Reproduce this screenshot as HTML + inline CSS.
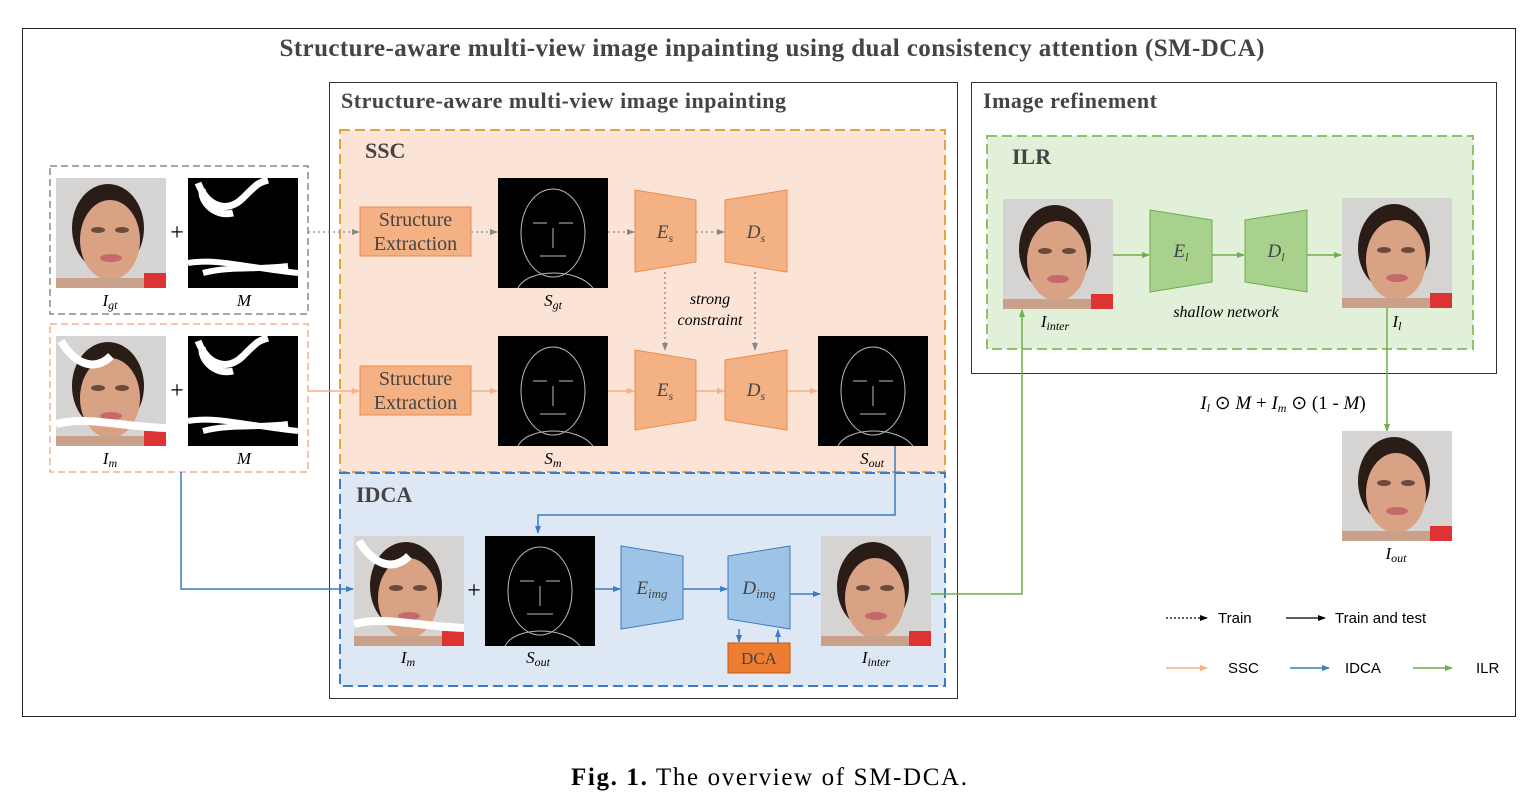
<!DOCTYPE html>
<html><head><meta charset="utf-8"><style>
body{margin:0;background:#fff;}
svg{display:block;font-family:"Liberation Serif",serif;}
</style></head><body>
<svg width="1538" height="808" viewBox="0 0 1538 808" xmlns="http://www.w3.org/2000/svg">
<defs>
<marker id="ag" markerWidth="8" markerHeight="8" refX="7" refY="4" orient="auto" markerUnits="userSpaceOnUse"><path d="M0,1 L8,4 L0,7z" fill="#888"/></marker>
<marker id="ao" markerWidth="8" markerHeight="8" refX="7" refY="4" orient="auto" markerUnits="userSpaceOnUse"><path d="M0,1 L8,4 L0,7z" fill="#f4b183"/></marker>
<marker id="ab" markerWidth="8" markerHeight="8" refX="7" refY="4" orient="auto" markerUnits="userSpaceOnUse"><path d="M0,1 L8,4 L0,7z" fill="#3c7cc4"/></marker>
<marker id="agr" markerWidth="8" markerHeight="8" refX="7" refY="4" orient="auto" markerUnits="userSpaceOnUse"><path d="M0,1 L8,4 L0,7z" fill="#6ab04c"/></marker>
<marker id="ak" markerWidth="8" markerHeight="8" refX="7" refY="4" orient="auto" markerUnits="userSpaceOnUse"><path d="M0,1 L8,4 L0,7z" fill="#000"/></marker>
<g id="face">
<rect width="110" height="110" fill="#d6d4d2"/>
<ellipse cx="52" cy="50" rx="36" ry="44" fill="#2a1c16"/>
<ellipse cx="54" cy="62" rx="30" ry="40" fill="#d9a285"/>
<rect x="0" y="100" width="110" height="10" fill="#c9a08a"/>
<rect x="88" y="95" width="22" height="15" fill="#d33"/>
<ellipse cx="42" cy="52" rx="7" ry="3" fill="#6a4a3a"/>
<ellipse cx="66" cy="52" rx="7" ry="3" fill="#6a4a3a"/>
<ellipse cx="55" cy="80" rx="11" ry="4" fill="#c46a6a"/>
</g>
<g id="mask">
<rect width="110" height="110" fill="#000"/>
<path d="M10,5 C20,30 40,35 55,20 S70,5 80,2 M15,10 C10,20 25,40 45,35" stroke="#fff" stroke-width="7" fill="none"/>
<path d="M0,85 C30,80 60,90 110,95 M15,95 C40,88 70,92 100,88" stroke="#fff" stroke-width="6" fill="none"/>
</g>
<g id="edge">
<rect width="110" height="110" fill="#000"/>
<ellipse cx="55" cy="55" rx="32" ry="44" stroke="#bbb" stroke-width="1" fill="none"/>
<path d="M35,45 h14 M61,45 h14 M55,50 v20 M42,78 h26 M20,110 C30,90 80,90 95,110" stroke="#bbb" stroke-width="1" fill="none"/>
</g>
<g id="face2">
<use href="#face"/>
<path d="M5,5 C20,30 40,35 55,20 M0,88 C30,80 60,90 110,92" stroke="#fff" stroke-width="8" fill="none"/>
</g>
</defs>

<rect x="22.5" y="28.5" width="1493" height="688" fill="none" stroke="#222" stroke-width="1"/>
<text x="772" y="56" text-anchor="middle" font-size="25" font-weight="bold" fill="#444" textLength="985">Structure-aware multi-view image inpainting using dual consistency attention (SM-DCA)</text>

<rect x="329.5" y="82.5" width="628" height="616" fill="none" stroke="#333"/>
<text x="341" y="108" font-size="22" font-weight="bold" fill="#444" textLength="445">Structure-aware multi-view image inpainting</text>
<rect x="340" y="130" width="605" height="342" fill="#fbe3d5" stroke="#e8a33a" stroke-width="2" stroke-dasharray="10,5"/>
<text x="365" y="158" font-size="22" font-weight="bold" fill="#444">SSC</text>
<rect x="340" y="473" width="605" height="213" fill="#dde8f4" stroke="#3c7cc4" stroke-width="2" stroke-dasharray="10,5"/>
<text x="356" y="502" font-size="22" font-weight="bold" fill="#444">IDCA</text>

<rect x="971.5" y="82.5" width="525" height="291" fill="none" stroke="#333"/>
<text x="983" y="108" font-size="22" font-weight="bold" fill="#444" textLength="174">Image refinement</text>
<rect x="987" y="136" width="486" height="213" fill="#e2efd9" stroke="#8cc46a" stroke-width="2" stroke-dasharray="10,5"/>
<text x="1012" y="164" font-size="22" font-weight="bold" fill="#444">ILR</text>

<!-- inputs -->
<rect x="50" y="166" width="258" height="148" fill="none" stroke="#888" stroke-width="1.5" stroke-dasharray="7,4"/>
<use href="#face" x="56" y="178"/><use href="#mask" x="188" y="178"/>
<text x="177" y="240" text-anchor="middle" font-size="24">+</text>
<text x="110" y="306" font-size="17" font-style="italic" text-anchor="middle">I<tspan font-size="12" dy="3">gt</tspan></text>
<text x="244" y="306" font-size="17" font-style="italic" text-anchor="middle">M</text>
<rect x="50" y="324" width="258" height="148" fill="none" stroke="#f0b090" stroke-width="1.5" stroke-dasharray="7,4"/>
<use href="#face2" x="56" y="336"/><use href="#mask" x="188" y="336"/>
<text x="177" y="398" text-anchor="middle" font-size="24">+</text>
<text x="110" y="464" font-size="17" font-style="italic" text-anchor="middle">I<tspan font-size="12" dy="3">m</tspan></text>
<text x="244" y="464" font-size="17" font-style="italic" text-anchor="middle">M</text>

<!-- SSC top -->
<g stroke="#888" stroke-width="1.3" stroke-dasharray="2,3" marker-end="url(#ag)" fill="none">
<path d="M308,232 H359"/><path d="M471,232 H497"/><path d="M608,232 H634"/><path d="M696,232 H724"/>
<path d="M665,272 V350"/><path d="M755,272 V350"/>
</g>
<rect x="360" y="207" width="111" height="49" fill="#f4b183" stroke="#eb8c4f"/>
<text x="415.5" y="226" text-anchor="middle" font-size="20" fill="#444">Structure</text>
<text x="415.5" y="250" text-anchor="middle" font-size="20" fill="#444">Extraction</text>
<use href="#edge" x="498" y="178"/>
<text x="553" y="306" font-size="17" font-style="italic" text-anchor="middle">S<tspan font-size="12" dy="3">gt</tspan></text>
<path d="M635,190 L696,200 L696,262 L635,272z" fill="#f4b183" stroke="#eb8c4f"/>
<text x="665" y="238" text-anchor="middle" font-size="19" font-style="italic" fill="#444">E<tspan font-size="12" dy="4">s</tspan></text>
<path d="M725,200 L787,190 L787,272 L725,262z" fill="#f4b183" stroke="#eb8c4f"/>
<text x="756" y="238" text-anchor="middle" font-size="19" font-style="italic" fill="#444">D<tspan font-size="12" dy="4">s</tspan></text>
<text x="710" y="304" text-anchor="middle" font-size="16" font-style="italic">strong</text>
<text x="710" y="325" text-anchor="middle" font-size="16" font-style="italic">constraint</text>

<!-- SSC bottom -->
<g stroke="#f4b183" stroke-width="1.5" marker-end="url(#ao)" fill="none">
<path d="M308,391 H359"/><path d="M471,391 H497"/><path d="M608,391 H634"/><path d="M696,391 H724"/><path d="M787,391 H817"/>
</g>
<rect x="360" y="366" width="111" height="49" fill="#f4b183" stroke="#eb8c4f"/>
<text x="415.5" y="385" text-anchor="middle" font-size="20" fill="#444">Structure</text>
<text x="415.5" y="409" text-anchor="middle" font-size="20" fill="#444">Extraction</text>
<use href="#edge" x="498" y="336"/>
<text x="553" y="464" font-size="17" font-style="italic" text-anchor="middle">S<tspan font-size="12" dy="3">m</tspan></text>
<path d="M635,350 L696,360 L696,420 L635,430z" fill="#f4b183" stroke="#eb8c4f"/>
<text x="665" y="396" text-anchor="middle" font-size="19" font-style="italic" fill="#444">E<tspan font-size="12" dy="4">s</tspan></text>
<path d="M725,360 L787,350 L787,430 L725,420z" fill="#f4b183" stroke="#eb8c4f"/>
<text x="756" y="396" text-anchor="middle" font-size="19" font-style="italic" fill="#444">D<tspan font-size="12" dy="4">s</tspan></text>
<use href="#edge" x="818" y="336"/>
<text x="872" y="464" font-size="17" font-style="italic" text-anchor="middle">S<tspan font-size="12" dy="3">out</tspan></text>

<!-- IDCA -->
<g stroke="#3c7cc4" stroke-width="1.5" fill="none" marker-end="url(#ab)">
<path d="M895,446 V515 H538 V533"/>
<path d="M181,472 V589 H353"/>
<path d="M595,589 H620"/><path d="M683,589 H727"/><path d="M790,594 H820"/>
<path d="M739,629 V642"/><path d="M778,643 V630"/>
</g>
<use href="#face2" x="354" y="536"/>
<text x="474" y="598" text-anchor="middle" font-size="24">+</text>
<use href="#edge" x="485" y="536"/>
<text x="408" y="663" font-size="17" font-style="italic" text-anchor="middle">I<tspan font-size="12" dy="3">m</tspan></text>
<text x="538" y="663" font-size="17" font-style="italic" text-anchor="middle">S<tspan font-size="12" dy="3">out</tspan></text>
<path d="M621,546 L683,556 L683,619 L621,629z" fill="#9dc3e6" stroke="#3c7cc4"/>
<text x="652" y="594" text-anchor="middle" font-size="19" font-style="italic" fill="#444">E<tspan font-size="13" dy="4">img</tspan></text>
<path d="M728,556 L790,546 L790,629 L728,619z" fill="#9dc3e6" stroke="#3c7cc4"/>
<text x="759" y="594" text-anchor="middle" font-size="19" font-style="italic" fill="#444">D<tspan font-size="13" dy="4">img</tspan></text>
<rect x="728" y="643" width="62" height="30" fill="#ed7d31" stroke="#c55a11"/>
<text x="759" y="664" text-anchor="middle" font-size="17" fill="#444">DCA</text>
<use href="#face" x="821" y="536"/>
<text x="876" y="663" font-size="17" font-style="italic" text-anchor="middle">I<tspan font-size="12" dy="3">inter</tspan></text>

<!-- ILR -->
<g stroke="#6ab04c" stroke-width="1.5" fill="none" marker-end="url(#agr)">
<path d="M931,594 H1022 V310"/>
<path d="M1112,255 H1149"/><path d="M1212,255 H1244"/><path d="M1307,255 H1341"/>
<path d="M1387,308 V431"/>
</g>
<use href="#face" x="1003" y="199"/>
<text x="1055" y="327" font-size="17" font-style="italic" text-anchor="middle">I<tspan font-size="12" dy="3">inter</tspan></text>
<path d="M1150,210 L1212,220 L1212,282 L1150,292z" fill="#a9d18e" stroke="#6ab04c"/>
<text x="1181" y="257" text-anchor="middle" font-size="19" font-style="italic" fill="#444">E<tspan font-size="12" dy="4">l</tspan></text>
<path d="M1245,220 L1307,210 L1307,292 L1245,282z" fill="#a9d18e" stroke="#6ab04c"/>
<text x="1276" y="257" text-anchor="middle" font-size="19" font-style="italic" fill="#444">D<tspan font-size="12" dy="4">l</tspan></text>
<text x="1226" y="317" text-anchor="middle" font-size="16" font-style="italic">shallow network</text>
<use href="#face" x="1342" y="198"/>
<text x="1397" y="327" font-size="17" font-style="italic" text-anchor="middle">I<tspan font-size="12" dy="3">l</tspan></text>
<text x="1283" y="409" text-anchor="middle" font-size="19"><tspan font-style="italic">I<tspan font-size="12" dy="3">l</tspan></tspan><tspan dy="-3"> ⊙ </tspan><tspan font-style="italic">M</tspan> + <tspan font-style="italic">I<tspan font-size="12" dy="3">m</tspan></tspan><tspan dy="-3"> ⊙ (1 - </tspan><tspan font-style="italic">M</tspan>)</text>
<use href="#face" x="1342" y="431"/>
<text x="1396" y="559" font-size="17" font-style="italic" text-anchor="middle">I<tspan font-size="12" dy="3">out</tspan></text>

<!-- legend -->
<path d="M1166,618 H1207" stroke="#000" stroke-width="1.3" stroke-dasharray="2,2" marker-end="url(#ak)"/>
<text x="1218" y="623" font-family="Liberation Sans, sans-serif" font-size="15">Train</text>
<path d="M1286,618 H1325" stroke="#000" stroke-width="1.3" marker-end="url(#ak)"/>
<text x="1335" y="623" font-family="Liberation Sans, sans-serif" font-size="15">Train and test</text>
<path d="M1166,668 H1207" stroke="#f4b183" stroke-width="1.5" marker-end="url(#ao)"/>
<text x="1228" y="673" font-family="Liberation Sans, sans-serif" font-size="15">SSC</text>
<path d="M1290,668 H1329" stroke="#3c7cc4" stroke-width="1.5" marker-end="url(#ab)"/>
<text x="1345" y="673" font-family="Liberation Sans, sans-serif" font-size="15">IDCA</text>
<path d="M1413,668 H1452" stroke="#6ab04c" stroke-width="1.5" marker-end="url(#agr)"/>
<text x="1476" y="673" font-family="Liberation Sans, sans-serif" font-size="15">ILR</text>

<text x="571" y="785" font-size="25" textLength="396"><tspan font-weight="bold">Fig. 1.</tspan>  The overview of SM-DCA.</text>
</svg>
</body></html>
